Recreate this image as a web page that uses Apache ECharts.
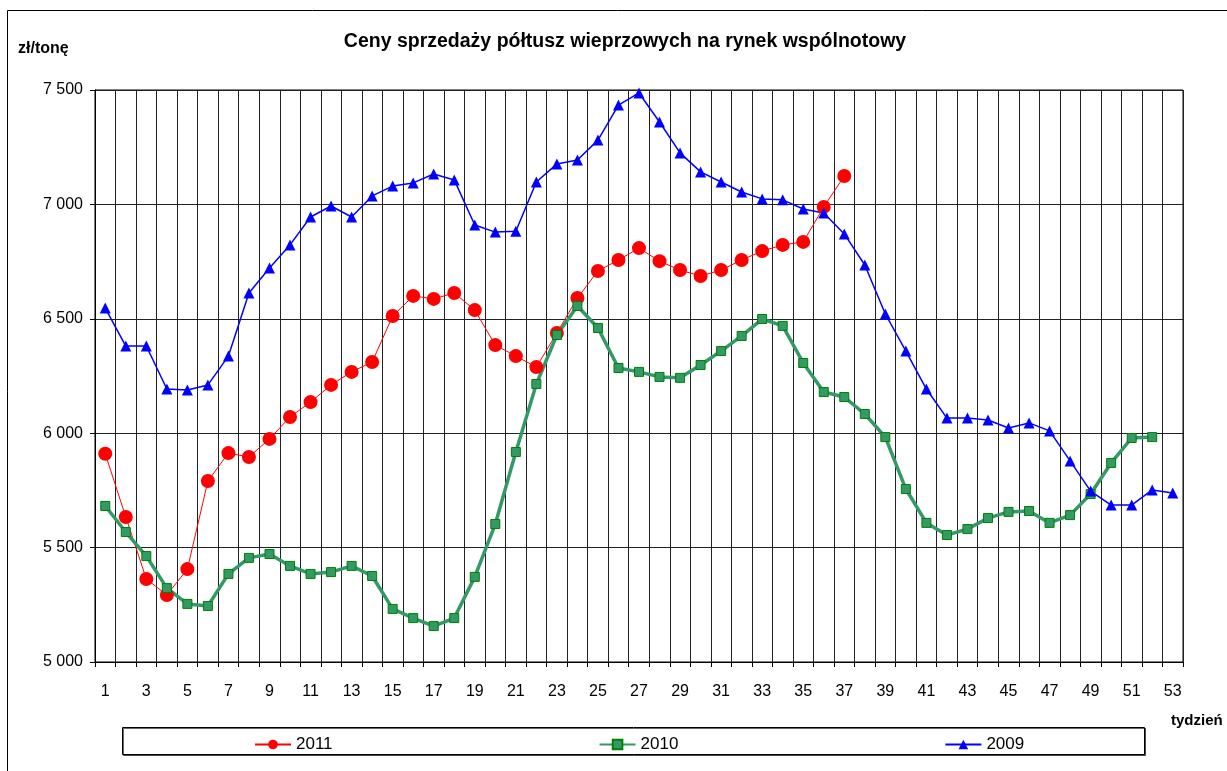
<!DOCTYPE html>
<html>
<head>
<meta charset="utf-8">
<script src="https://cdn.jsdelivr.net/npm/echarts@6/dist/echarts.min.js"></script>
<style>
  html, body { margin: 0; padding: 0; background: #fff; }
  #chart { width: 1227px; height: 771px; }
</style>
</head>
<body>
<div id="chart"></div>
<script>
// tygodnie 1..53
const weeks = ['1','2','3','4','5','6','7','8','9','10','11','12','13','14','15','16','17','18','19','20',
  '21','22','23','24','25','26','27','28','29','30','31','32','33','34','35','36','37','38','39','40',
  '41','42','43','44','45','46','47','48','49','50','51','52','53']

const y2011 = [5910, 5634, 5363, 5293, 5406, 5791, 5913, 5896, 5975, 6071, 6136, 6211, 6268, 6311, 6512,
  6600, 6587, 6613, 6538, 6385, 6337, 6289, 6438, 6591, 6709, 6757, 6809, 6752, 6713, 6687, 6713, 6757,
  6796, 6823, 6836, 6989, 7124]

const y2010 = [5682, 5568, 5463, 5323, 5254, 5245, 5385, 5455, 5472, 5420, 5385, 5393, 5420, 5376, 5232,
  5192, 5157, 5192, 5372, 5603, 5918, 6215, 6429, 6556, 6460, 6285, 6268, 6246, 6242, 6298, 6359, 6425,
  6499, 6469, 6307, 6180, 6158, 6084, 5983, 5756, 5608, 5555, 5581, 5629, 5656, 5660, 5608, 5642, 5734,
  5870, 5979, 5983]

const y2009 = [6547, 6381, 6381, 6193, 6189, 6211, 6337, 6613, 6722, 6823, 6945, 6993, 6945, 7037, 7080,
  7094, 7133, 7107, 6910, 6879, 6883, 7098, 7177, 7194, 7281, 7434, 7487, 7360, 7225, 7142, 7098, 7054,
  7024, 7020, 6980, 6962, 6871, 6735, 6521, 6359, 6193, 6066, 6066, 6058, 6023, 6045, 6010, 5879, 5747,
  5686, 5686, 5752, 5739]

const yMin = 5000
const yMax = 7500
const yStep = 500

const font = 'Liberation Sans, Arial, sans-serif'
const chart = echarts.init(document.getElementById('chart'))

chart.setOption({
  animation: false,
  textStyle: { fontFamily: font },
  title: {
    text: 'Ceny sprzedaży półtusz wieprzowych na rynek wspólnotowy',
    left: 620,
    top: 27,
    textAlign: 'center',
    textStyle: { fontSize: 19.5, fontWeight: 'bold', color: '#000', fontFamily: font },
  },
  graphic: [
    {
      type: 'rect',
      shape: { x: 7.5, y: 10.5, width: 1260, height: 800 },
      style: { fill: 'none', stroke: '#000', lineWidth: 1 },
      silent: true,
    },
    {
      type: 'rect',
      shape: { x: 122.5, y: 727.5, width: 1022, height: 27 },
      style: { fill: '#fff', stroke: '#000', lineWidth: 1, shadowColor: 'rgba(0,0,0,0.6)', shadowOffsetX: 1, shadowOffsetY: 1 },
      silent: true,
      z: -1,
    },
    {
      type: 'text',
      left: 18,
      top: 41,
      style: { text: 'zł/tonę', font: 'bold 16px ' + font, fill: '#000' },
    },
    {
      type: 'text',
      left: 1171,
      top: 713,
      style: { text: 'tydzień', font: 'bold 15px ' + font, fill: '#000' },
    },
  ],
  legend: {
    data: ['2011', '2010', '2009'],
    left: 249,
    top: 731,
    itemWidth: 36,
    itemHeight: 12,
    itemGap: 266,
    textStyle: { fontSize: 17, color: '#000', fontFamily: font },
  },
  grid: {
    left: 95,
    right: 44,
    top: 90,
    bottom: 109,
    show: true,
    borderColor: '#000',
    borderWidth: 1,
  },
  xAxis: {
    type: 'category',
    data: weeks,
    boundaryGap: true,
    axisLine: { lineStyle: { color: '#000', width: 1 } },
    axisTick: { show: true, interval: 0, length: 5, lineStyle: { color: '#000' } },
    axisLabel: { interval: 1, color: '#000', fontSize: 16, margin: 22, fontFamily: font },
    splitLine: { show: true, interval: 0, lineStyle: { color: '#222', width: 1 } },
  },
  yAxis: {
    type: 'value',
    min: yMin,
    max: yMax,
    interval: yStep,
    axisLine: { show: true, lineStyle: { color: '#000' } },
    axisTick: { show: true, length: 5, lineStyle: { color: '#000' } },
    axisLabel: {
      color: '#000',
      fontSize: 16,
      margin: 12,
      fontFamily: font,
      formatter: (v) => String(v).replace(/\B(?=(\d{3})+(?!\d))/g, ' '),
    },
    splitLine: { show: true, lineStyle: { color: '#222', width: 1 } },
  },
  series: [
    {
      name: '2011',
      type: 'line',
      data: y2011,
      symbol: 'circle',
      symbolSize: 14,
      showAllSymbol: true,
      lineStyle: { color: '#FF0000', width: 1 },
      itemStyle: { color: '#FF0000' },
    },
    {
      name: '2010',
      type: 'line',
      data: y2010,
      symbol: 'rect',
      symbolSize: 9,
      showAllSymbol: true,
      lineStyle: { color: '#339966', width: 3.5 },
      itemStyle: { color: '#339966', borderColor: '#008000', borderWidth: 1 },
    },
    {
      name: '2009',
      type: 'line',
      data: y2009,
      symbol: 'triangle',
      symbolSize: 11,
      showAllSymbol: true,
      lineStyle: { color: '#0000FF', width: 1.5 },
      itemStyle: { color: '#0000FF' },
    },
  ],
})
</script>
</body>
</html>
